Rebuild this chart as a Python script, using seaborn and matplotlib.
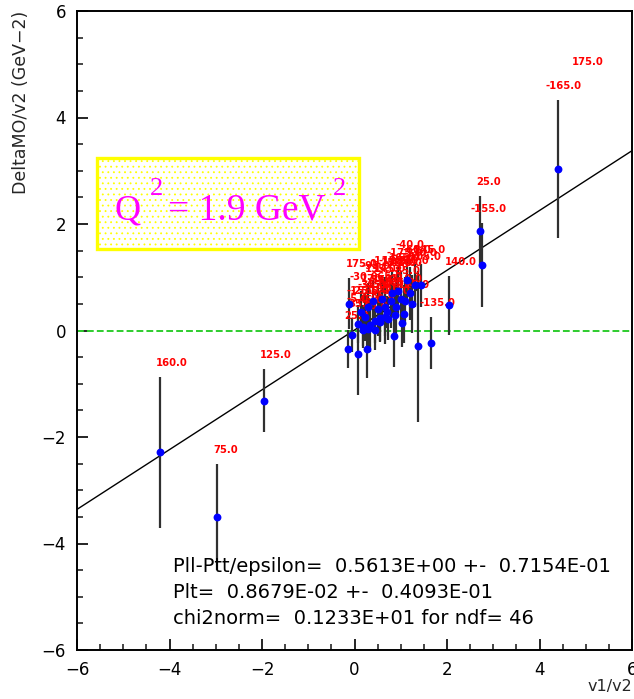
import matplotlib
matplotlib.use("Agg")
import matplotlib.pyplot as plt
from matplotlib.patches import Rectangle
from matplotlib.ticker import MultipleLocator
import numpy as np
import pandas as pd
import seaborn as sns

# ---- measured points: v1/v2, DeltaM0/v2 and its error, phi label ----
v1_v2 = [-4.20, -2.97, -1.96, 4.39, 2.71, 2.76, 2.05, 1.66, 1.37, -0.11, -0.13,
         0.08, 0.27, -0.05, 0.08, 0.18, 0.18, 0.29, 0.33, 0.44, 0.44, 0.55, 0.55,
         0.66, 0.72, 0.85, 1.02, 1.07, 1.14, 1.44, 0.30, 0.40, 0.50, 0.60, 0.65,
         0.78, 0.82, 0.90, 0.95, 1.00, 1.10, 1.20, 1.25, 0.15, 0.22, 0.70, 0.88, 1.30]
delta_m0 = [-2.29, -3.50, -1.32, 3.03, 1.87, 1.23, 0.47, -0.24, -0.30, 0.50, -0.35,
            -0.45, -0.35, -0.08, 0.12, 0.07, 0.01, 0.03, 0.10, 0.18, 0.01, 0.23, 0.16,
            0.25, 0.22, -0.10, 0.14, 0.31, 0.95, 0.85, 0.45, 0.55, 0.40, 0.60, 0.45,
            0.55, 0.70, 0.45, 0.75, 0.60, 0.55, 0.70, 0.50, 0.35, 0.25, 0.35, 0.30, 0.85]
delta_err = [1.41, 1.00, 0.59, 1.30, 0.66, 0.78, 0.55, 0.49, 1.42, 0.48, 0.36,
             0.77, 0.54, 0.32, 0.35, 0.40, 0.30, 0.45, 0.50, 0.42, 0.38, 0.45, 0.35,
             0.50, 0.40, 0.58, 0.45, 0.55, 0.40, 0.40, 0.45, 0.40, 0.50, 0.45, 0.55,
             0.50, 0.40, 0.55, 0.45, 0.50, 0.45, 0.50, 0.55, 0.40, 0.45, 0.30, 0.40, 0.40]
phi_labels = ["160.0", "75.0", "125.0", "-165.0", "25.0", "-155.0", "140.0", "-135.0",
              "-105.0", "175.0", "25.0", "-5.0", "55.0", "35.0", "-15.0", "-25.0",
              "45.0", "65.0", "-35.0", "-45.0", "85.0", "-55.0", "95.0", "-65.0",
              "105.0", "-75.0", "115.0", "-85.0", "-40.0", "-145.0", "135.0", "-95.0",
              "145.0", "-115.0", "155.0", "-125.0", "165.0", "15.0", "-175.0", "5.0",
              "-10.0", "130.0", "-20.0", "-30.0", "170.0", "-50.0", "110.0", "-60.0"]

# label of a point lying outside the drawn range
extra_label = "175.0"
extra_label_pos = (4.70, 5.04)

# fit results
slope, slope_err = 0.5613, 0.07154
intercept, intercept_err = 0.008679, 0.04093
chi2norm, ndf = 1.233, 46

fit_lines = [
    "Pll-Ptt/epsilon=  0.5613E+00 +-  0.7154E-01",
    "Plt=  0.8679E-02 +-  0.4093E-01",
    "chi2norm=  0.1233E+01 for ndf= 46",
]

df = pd.DataFrame({"x": v1_v2, "y": delta_m0, "err": delta_err, "phi": phi_labels})

sns.set_style("white")
plt.rcParams["font.family"] = ["DejaVu Sans"]
plt.rcParams["hatch.linewidth"] = 0.6

fig = plt.figure(figsize=(6.34, 6.99), dpi=100)
ax = fig.add_axes([77 / 634, 49 / 699, 555 / 634, 639 / 699])

# zero line
ax.axhline(0, color="#2ecc2e", lw=1.4, dashes=(3.5, 1.6), zorder=1)

# fit line
xfit = np.array([-6.0, 6.0])
sns.lineplot(x=xfit, y=slope * xfit + intercept, ax=ax, color="black", lw=1.0, zorder=2)

# error bars
ax.vlines(df["x"], df["y"] - df["err"], df["y"] + df["err"], color="#303030", lw=1.6, zorder=3)

# phi labels above each error bar
for _, r in df.iterrows():
    dx = -12 if r["phi"].startswith("-") else -4
    ax.annotate(r["phi"], xy=(r["x"], r["y"] + r["err"]), xytext=(dx, 9),
                textcoords="offset pixels", ha="left", va="bottom",
                color="red", fontsize=7.2, fontweight="bold", zorder=4,
                annotation_clip=False)
ax.text(*extra_label_pos, extra_label, color="red", fontsize=7.2, fontweight="bold",
        ha="left", va="center")

# points
sns.scatterplot(data=df, x="x", y="y", ax=ax, color="#0000ff", marker="o", s=32,
                linewidth=0, zorder=5)

# Q^2 box
box = Rectangle((-5.57, 1.53), 5.67, 1.71, facecolor="white", edgecolor="#ffff00",
                hatch="...", lw=2.4, zorder=6)
ax.add_patch(box)
qfont = dict(family="Liberation Serif", color="#ff00ff", zorder=7)
ax.text(-5.18, 2.09, "Q", fontsize=26, ha="left", va="baseline", **qfont)
ax.text(-4.42, 2.55, "2", fontsize=19, ha="left", va="baseline", **qfont)
ax.text(-4.03, 2.09, "= 1.9 GeV", fontsize=27, ha="left", va="baseline", **qfont)
ax.text(-0.47, 2.55, "2", fontsize=19, ha="left", va="baseline", **qfont)

# fit summary
for i, line in enumerate(fit_lines):
    ax.text(-3.92, -4.44 - i * 0.488, line, fontsize=14, ha="left", va="center",
            color="black", zorder=7)

ax.set_xlim(-6, 6)
ax.set_ylim(-6, 6)
ax.xaxis.set_major_locator(MultipleLocator(2))
ax.yaxis.set_major_locator(MultipleLocator(2))
ax.xaxis.set_minor_locator(MultipleLocator(0.5))
ax.yaxis.set_minor_locator(MultipleLocator(0.5))
ax.tick_params(which="major", direction="in", length=8, width=1.2, labelsize=12,
               bottom=True, left=True, top=False, right=False, pad=8, colors="black")
ax.tick_params(which="minor", direction="in", length=4.5, width=1.2,
               bottom=True, left=True, top=False, right=False)
for s in ax.spines.values():
    s.set_color("black")
    s.set_linewidth(1.4)

ax.set_xlabel("v1/v2", fontsize=11.5, loc="right")
ax.xaxis.set_label_coords(1.0, -0.045)
ax.set_ylabel("DeltaMO/v2 (GeV\u22122)", fontsize=12.5, loc="top")
ax.yaxis.set_label_coords(-0.085, 1.0)

fig.savefig("out.png", dpi=100)
